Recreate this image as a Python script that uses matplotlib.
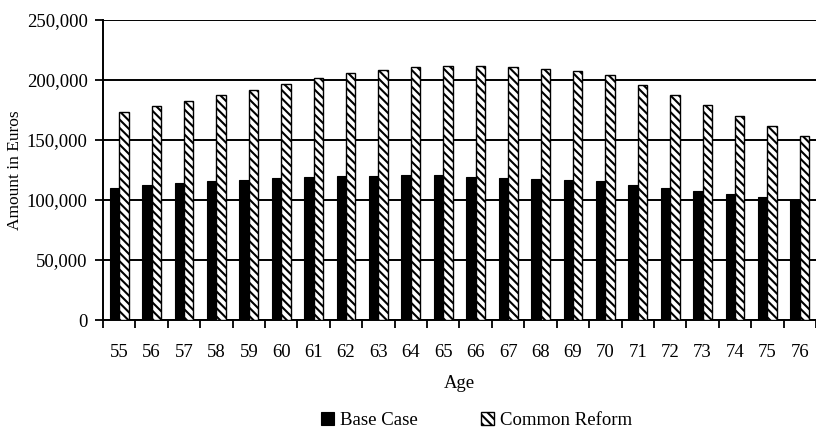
import matplotlib.pyplot as plt
import numpy as np

ages = list(range(55, 77))
base_case = [110000, 112000, 114000, 115400, 116500, 117900, 119200, 119800,
             119800, 120300, 120300, 119200, 118400, 117600, 116500, 115400,
             112600, 109800, 107300, 104800, 102600, 100000]
common_reform = [173000, 177800, 182500, 187000, 191600, 196300, 201300, 205700,
                 208200, 210500, 211300, 211300, 210800, 209000, 207000, 204000,
                 195800, 187400, 178900, 170000, 161700, 153300]
y_ticks = [0, 50000, 100000, 150000, 200000, 250000]

plt.rcParams['font.family'] = ['Liberation Serif', 'DejaVu Serif']
plt.rcParams['font.size'] = 13.5
plt.rcParams['hatch.linewidth'] = 1.5

fig = plt.figure(figsize=(8.16, 4.29), dpi=100)
ax = fig.add_axes([0.1262, 0.254, 0.8738, 0.7005])

x = np.arange(len(ages))
w = 0.29
ax.bar(x - w / 2, base_case, w, color='black', edgecolor='black',
       linewidth=0.8, label='Base Case', zorder=3)
ax.bar(x + w / 2, common_reform, w, color='white', edgecolor='black',
       hatch='\\\\\\\\', linewidth=1.0, label='Common Reform', zorder=3)

ax.set_xlim(-0.5, len(ages) - 0.5)
ax.set_ylim(0, 250000)
ax.set_yticks(y_ticks)
ax.set_yticklabels([f'{v:,}' for v in y_ticks])
ax.yaxis.grid(True, color='black', linewidth=1.4, zorder=0)
ax.set_axisbelow(True)

# ticks sit between categories, labels centred on each group
ax.set_xticks(np.arange(len(ages) + 1) - 0.5)
ax.set_xticklabels([])
ax.set_xticks(x, minor=True)
ax.set_xticklabels([str(a) for a in ages], minor=True)
ax.tick_params(axis='x', which='major', direction='out', length=6, width=1.3)
ax.tick_params(axis='x', which='minor', length=0, pad=17)
ax.tick_params(axis='y', direction='out', length=6, width=1.3, pad=5)

for side in ['top', 'right']:
    ax.spines[side].set_visible(False)
for side in ['left', 'bottom']:
    ax.spines[side].set_linewidth(1.4)

ax.set_xlabel('Age', labelpad=10)
ax.set_ylabel('Amount in Euros', fontsize=12.5)
ax.yaxis.set_label_coords(-0.112, 0.5)

fig.legend(loc='center', bbox_to_anchor=(0.584, 0.02), ncol=2, frameon=False,
           handlelength=0.7, handleheight=0.7, handletextpad=0.3,
           columnspacing=3.4, fontsize=13.5)

fig.savefig('out.png', dpi=100)
